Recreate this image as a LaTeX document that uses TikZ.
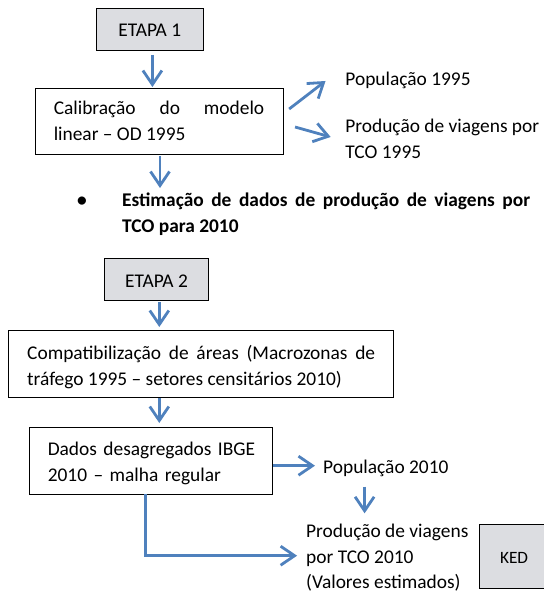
\documentclass[tikz,border=0pt]{standalone}
\usepackage{fontspec}
\setmainfont{Carlito}
\usetikzlibrary{
  arrows.meta,
  calc,
  positioning,
}
\definecolor{azul}{RGB}{79,129,189}
\definecolor{cinza}{RGB}{220,221,225}
\newcommand{\txtnormal}{\fontsize{19.4pt}{25.5pt}\selectfont}
\newcommand{\txtpeq}{\fontsize{17.3pt}{21pt}\selectfont}
\hyphenpenalty=10000
\tolerance=9999
\tikzset{
  x = 1pt,
  y = -1pt,
  caixa/.style={
    draw, line width=0.9pt, inner xsep=18.7pt, inner ysep=0pt,
    outer sep=0pt, align=justify, font=\txtnormal,
  },
  etapa/.style={
    draw, fill=cinza, line width=0.9pt, minimum height=42pt,
    text height=16pt, text depth=0pt, outer sep=0pt, font=\txtnormal,
  },
  seta/.style={
    draw=azul, line width=2.8pt,
    -{Straight Barb[length=14pt,width=19pt]},
  },
}

\begin{document}
\begin{tikzpicture}[
  t/.style={font=\txtnormal, inner sep=0pt, align=left},]
  \useasboundingbox (0,0) rectangle (543,591);
  %% etapa 1
  \node[etapa, minimum width=107pt] (E1) at (149.8,29) {ETAPA 1};
  \node[caixa, text width=210.5pt, minimum height=66pt] (Calib)
  at (159,121) {Calibração do modelo\linebreak linear – OD 1995};
  \node[t, anchor=base west] (Pop95) at (345.2,86) {População 1995};
  \node[t, anchor=north west] (Prod95) at (345.2,119)
  {Produção de viagens por\\TCO 1995};
  \node[t, font=\txtnormal\bfseries, anchor=base] (Bul) at (82,206.5)
  {\textbullet};
  \node[t, font=\txtnormal\bfseries, text width=408pt, align=justify,
  anchor=north west] (Est) at (121.9,192.8)
  {Estimação de dados de produção de viagens por\linebreak TCO para 2010};
  %%
  \draw[seta, shorten <=5pt, shorten >=1pt] ([xshift=2.6pt]E1.south)
  -- ([xshift=2.6pt]E1.south |- Calib.north);
  \draw[seta] ([shift={(6.2,-12)}]Calib.east)
  -- ([shift={(-19.7,-5)}]Pop95.base west);
  \draw[seta] ([shift={(12.1,6)}]Calib.east)
  -- ([shift={(-14.5,18)}]Prod95.north west);
  \draw[seta, shorten <=2pt, shorten >=4.8pt] ([xshift=1pt]Calib.south)
  -- ([xshift=1pt]Calib.south |- Est.north);
  %% etapa 2
  \node[etapa, minimum width=104.6pt] (E2) at (156.5,279) {ETAPA 2};
  \node[caixa, text width=348pt, minimum height=67pt] (Compat)
  at (201.2,364)
  {\rule{0pt}{20.5pt}Compatibilização de áreas (Macrozonas de\linebreak
    tráfego 1995 – setores censitários 2010)};
  \node[caixa, text width=205.7pt, minimum height=67pt, align=left]
  (Dados) at (150.6,460.5)
  {\rule{0pt}{19pt}\mbox{Dados desagregados IBGE}\\
    \mbox{2010 – malha regular}};
  \node[t, anchor=base west] (Pop10) at (323,473) {População 2010};
  \node[t, anchor=north west] (Prod10) at (306,524.3)
  {Produção de viagens\\por TCO 2010\\(Valores estimados)};
  \node[etapa, font=\txtpeq, anchor=north west, minimum height=63.5pt,
  text width=60pt, inner xsep=20.7pt, text height=13.6pt, align=left]
  (KED) at (479.3,524.5) {KED};
  %%
  \draw[seta, shorten <=2pt, shorten >=3.5pt] ([xshift=2.8pt]E2.south)
  -- ([xshift=2.8pt]E2.south |- Compat.north);
  \draw[seta, shorten >=4pt] ([xshift=2.8pt]E2.south |- Compat.south)
  -- ([xshift=2.8pt]E2.south |- Dados.north);
  \draw[seta, shorten <=1.3pt] ([shift={(0,5.2)}]Dados.east)
  -- ([shift={(-8,-7.3)}]Pop10.base west);
  \draw[seta] ([shift={(41.6,13.7)}]Pop10.base west)
  -- ([shift={(58.6,-11)}]Prod10.north west);
  \draw[seta] ([xshift=-5.2pt]Dados.south)
  |- ([shift={(-8.9,31.4)}]Prod10.north west);
\end{tikzpicture}
\end{document}
